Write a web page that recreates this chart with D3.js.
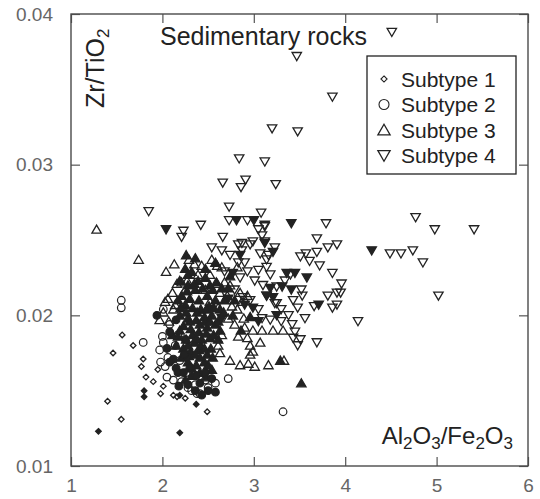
<!DOCTYPE html>
<html>
<head>
<meta charset="utf-8">
<script src="https://cdn.jsdelivr.net/npm/d3@7"></script>
<style>
  body { margin: 0; background: #fff; }
  svg { font-family: "Liberation Sans", Arial, sans-serif; }
</style>
</head>
<body>
<svg id="chart"></svg>
<script>
// [Al2O3/Fe2O3, Zr/TiO2, filled]
const subtype1 = [
  [1.56,0.0187,0],[1.46,0.0175,0],[1.68,0.0180,0],[1.79,0.0171,0],[1.77,0.0166,0],
  [1.82,0.0159,0],[1.90,0.0156,0],[1.95,0.0164,0],[2.01,0.0153,0],[1.98,0.0148,0],
  [2.12,0.0147,0],[2.16,0.0146,0],[2.49,0.0136,0],[1.40,0.0143,0],[1.55,0.0131,0],
  [2.25,0.0145,0],
  [1.80,0.0150,1],[1.80,0.0146,1],[1.30,0.0123,1],[2.19,0.0122,1],[2.37,0.0141,1],
  [2.19,0.0147,1]
];
const subtype2 = [
  [1.55,0.0210,0],[1.55,0.0205,0],[1.79,0.0182,0],[2.01,0.0204,0],[2.00,0.0186,0],
  [2.01,0.0182,0],[1.97,0.0177,0],[1.98,0.0169,0],[2.03,0.0166,0],[2.05,0.0159,0],
  [2.12,0.0157,0],[2.21,0.0156,0],[2.28,0.0152,0],[2.38,0.0148,0],[2.41,0.0148,0],
  [2.32,0.0150,0],[2.50,0.0152,0],[2.72,0.0158,0],[3.32,0.0136,0],[2.08,0.0194,0],
  [2.14,0.0180,0],[2.19,0.0170,0],[2.26,0.0162,0],[2.36,0.0154,0],[2.47,0.0157,0],
  [2.17,0.0187,0],[2.06,0.0172,0],[2.58,0.0155,0],
  [1.94,0.0200,1],[2.05,0.0178,1],[2.12,0.0171,1],[2.15,0.0165,1],[2.17,0.0162,1],
  [2.18,0.0153,1],[2.28,0.0154,1],[2.50,0.0150,1],[2.08,0.0189,1],[2.24,0.0174,1],
  [2.37,0.0160,1],[2.47,0.0162,1],[2.30,0.0165,1],[2.41,0.0155,1],[2.54,0.0158,1],
  [2.25,0.0184,1],[2.15,0.0197,1],[2.36,0.0150,1],[2.58,0.0149,1],[2.43,0.0147,1],
  [2.23,0.0162,1],[2.08,0.0169,1]
];
const subtype3 = [
  [1.28,0.0257,0],[1.74,0.0237,0],[2.13,0.0234,0],[2.04,0.0229,0],[2.29,0.0237,0],
  [2.35,0.0234,0],[2.43,0.0233,0],[2.54,0.0237,0],[2.60,0.0233,0],[2.65,0.0232,0],
  [2.82,0.0232,0],[2.16,0.0221,0],[2.21,0.0222,0],[2.27,0.0223,0],[2.11,0.0215,0],
  [2.03,0.0209,0],[2.06,0.0211,0],[2.12,0.0204,0],[2.01,0.0202,0],[2.60,0.0221,0],
  [2.68,0.0222,0],[2.74,0.0220,0],[2.63,0.0215,0],[2.71,0.0213,0],[2.52,0.0227,0],
  [2.52,0.0209,0],[2.61,0.0205,0],[2.76,0.0206,0],[2.85,0.0215,0],[2.87,0.0209,0],
  [2.93,0.0213,0],[2.82,0.0204,0],[2.74,0.0170,0],[2.85,0.0167,0],[2.94,0.0168,0],
  [3.01,0.0166,0],[3.16,0.0167,0],[2.96,0.0180,0],[2.99,0.0176,0],[2.65,0.0187,0],
  [2.60,0.0185,0],[2.83,0.0186,0],[2.93,0.0185,0],[2.79,0.0194,0],[2.90,0.0192,0],
  [2.99,0.0190,0],[3.21,0.0190,0],[2.96,0.0174,0],[2.61,0.0180,0],[2.63,0.0175,0],
  [3.33,0.0170,0],[3.32,0.0190,0],[2.07,0.0196,0],[2.47,0.0217,0],[2.39,0.0227,0],
  [2.72,0.0198,0],[3.09,0.0190,0],[3.07,0.0182,0],[2.89,0.0198,0],[2.14,0.0207,0],
  [2.25,0.0217,0],[1.97,0.0197,0],
  [2.25,0.0231,1],[2.32,0.0229,1],[2.39,0.0223,1],[2.28,0.0220,1],[2.36,0.0217,1],
  [2.44,0.0218,1],[2.21,0.0213,1],[2.30,0.0211,1],[2.40,0.0210,1],[2.49,0.0213,1],
  [2.55,0.0217,1],[2.25,0.0207,1],[2.33,0.0205,1],[2.42,0.0204,1],[2.51,0.0206,1],
  [2.58,0.0210,1],[2.19,0.0200,1],[2.28,0.0198,1],[2.37,0.0197,1],[2.46,0.0199,1],
  [2.54,0.0200,1],[2.23,0.0193,1],[2.31,0.0191,1],[2.40,0.0189,1],[2.49,0.0192,1],
  [2.58,0.0194,1],[2.17,0.0186,1],[2.26,0.0184,1],[2.35,0.0182,1],[2.43,0.0184,1],
  [2.52,0.0185,1],[2.23,0.0178,1],[2.31,0.0176,1],[2.40,0.0177,1],[2.49,0.0174,1],
  [2.28,0.0169,1],[2.37,0.0167,1],[2.46,0.0169,1],[2.53,0.0178,1],[2.61,0.0196,1],
  [2.63,0.0204,1],[2.15,0.0180,1],[2.41,0.0162,1],[2.32,0.0160,1],[2.54,0.0164,1],
  [2.68,0.0210,1],[2.65,0.0218,1],[2.74,0.0226,1],[2.47,0.0225,1],[2.36,0.0238,1],
  [2.26,0.0240,1],[2.96,0.0199,1],[3.29,0.0170,1],[3.52,0.0155,1],[2.77,0.0200,1],
  [2.86,0.0190,1],[2.59,0.0222,1],[2.17,0.0210,1],[2.11,0.0187,1],[2.27,0.0216,1],
  [2.38,0.0202,1],[2.47,0.0196,1],[2.33,0.0187,1],[2.42,0.0180,1],[2.29,0.0173,1],
  [2.50,0.0167,1],[2.20,0.0205,1],
  [2.19,0.0223,1],[2.35,0.0221,1],[2.52,0.0220,1],[2.26,0.0202,1],[2.48,0.0204,1],
  [2.56,0.0205,1],[2.30,0.0196,1],[2.41,0.0194,1],[2.52,0.0196,1],[2.19,0.0190,1],
  [2.37,0.0185,1],[2.48,0.0188,1],[2.56,0.0187,1],[2.28,0.0180,1],[2.46,0.0178,1],
  [2.36,0.0174,1],[2.55,0.0172,1],[2.21,0.0172,1],[2.41,0.0172,1],[2.32,0.0165,1],
  [2.48,0.0159,1],[2.25,0.0157,1],[2.61,0.0184,1],[2.63,0.0190,1],[2.67,0.0202,1],
  [2.58,0.0235,1],[2.47,0.0231,1],[2.28,0.0227,1],[2.72,0.0218,1],[2.79,0.0210,1]
];
const subtype4 = [
  [4.51,0.0388,0],[3.47,0.0372,0],[3.86,0.0345,0],[3.20,0.0324,0],[3.48,0.0322,0],
  [2.84,0.0304,0],[3.12,0.0302,0],[3.24,0.0287,0],[2.66,0.0288,0],[2.91,0.0290,0],
  [2.86,0.0285,0],[1.85,0.0269,0],[2.73,0.0272,0],[3.08,0.0268,0],[2.23,0.0256,0],
  [2.21,0.0252,0],[2.42,0.0260,0],[2.73,0.0263,0],[2.93,0.0263,0],[3.12,0.0260,0],
  [3.05,0.0257,0],[2.66,0.0252,0],[2.87,0.0248,0],[2.99,0.0249,0],[3.79,0.0261,0],
  [3.69,0.0251,0],[3.91,0.0247,0],[3.81,0.0245,0],[3.69,0.0242,0],[3.57,0.0241,0],
  [3.51,0.0239,0],[4.49,0.0241,0],[4.61,0.0241,0],[4.74,0.0243,0],[4.85,0.0235,0],
  [4.77,0.0265,0],[4.98,0.0257,0],[5.41,0.0257,0],[5.02,0.0213,0],[4.14,0.0196,0],
  [3.12,0.0259,0],[3.09,0.0253,0],[3.12,0.0249,0],[3.23,0.0245,0],[3.14,0.0237,0],
  [3.14,0.0232,0],[3.86,0.0228,0],[3.96,0.0221,0],[3.91,0.0215,0],[3.95,0.0215,0],
  [3.81,0.0213,0],[3.66,0.0206,0],[3.86,0.0205,0],[3.91,0.0207,0],[3.45,0.0189,0],
  [3.43,0.0185,0],[3.51,0.0184,0],[3.48,0.0180,0],[3.69,0.0182,0],[3.52,0.0217,0],
  [3.53,0.0213,0],[3.43,0.0210,0],[3.48,0.0205,0],[3.23,0.0208,0],[3.30,0.0204,0],
  [3.30,0.0196,0],[2.83,0.0247,0],[2.87,0.0243,0],[2.96,0.0247,0],[3.07,0.0241,0],
  [3.16,0.0240,0],[2.83,0.0235,0],[2.90,0.0235,0],[2.93,0.0229,0],[2.85,0.0225,0],
  [3.10,0.0220,0],[3.25,0.0219,0],[3.14,0.0213,0],[3.25,0.0208,0],[2.96,0.0210,0],
  [2.88,0.0212,0],[2.54,0.0245,0],[2.65,0.0243,0],[2.74,0.0240,0],[3.01,0.0223,0],
  [3.05,0.0230,0],[3.34,0.0223,0],[3.40,0.0227,0],[3.18,0.0227,0],[3.61,0.0236,0],
  [3.72,0.0233,0],[2.68,0.0229,0],[2.79,0.0217,0],[3.05,0.0204,0],[3.09,0.0198,0],
  [3.18,0.0197,0],[3.38,0.0200,0],[3.56,0.0198,0],[3.42,0.0194,0],
  [2.04,0.0257,1],[2.81,0.0263,1],[3.00,0.0263,1],[3.41,0.0261,1],[4.29,0.0243,1],
  [3.21,0.0242,1],[3.36,0.0228,1],[3.45,0.0228,1],[3.58,0.0225,1],[3.71,0.0207,1],
  [3.14,0.0213,1],[3.25,0.0200,1],[3.31,0.0219,1],[3.41,0.0217,1],[2.85,0.0240,1],
  [3.12,0.0248,1],[2.77,0.0228,1],[3.18,0.0218,1],[3.21,0.0212,1],[2.90,0.0207,1],
  [2.99,0.0205,1],[2.72,0.0211,1],[3.05,0.0196,1],[2.65,0.0198,1]
];
const legendLabels = ["Subtype 1", "Subtype 2", "Subtype 3", "Subtype 4"];
const xTicks = [1, 2, 3, 4, 5, 6];
const yTicks = [0.01, 0.02, 0.03, 0.04];

const width = 540, height = 499;
const ink = "#222";
const svg = d3.select("#chart").attr("width", width).attr("height", height);
svg.append("rect").attr("width", width).attr("height", height).attr("fill", "#fff");

const x = d3.scaleLinear().domain([1, 6]).range([71, 528]);
const y = d3.scaleLinear().domain([0.01, 0.04]).range([466, 14]);

// marker shapes
const shapes = {
  diamond: "M0,-2.8L2.8,0L0,2.8L-2.8,0Z",
  up: "M0,-4.4L4.7,3.7L-4.7,3.7Z",
  down: "M0,4.4L4.7,-3.7L-4.7,-3.7Z"
};
function drawSeries(data, kind) {
  const g = svg.append("g");
  const sel = g.selectAll("path").data(data).enter();
  if (kind === "circle") {
    sel.append("circle")
      .attr("cx", d => x(d[0])).attr("cy", d => y(d[1])).attr("r", 3.8)
      .attr("fill", d => d[2] ? ink : "none")
      .attr("stroke", ink).attr("stroke-width", 1.2);
  } else {
    sel.append("path")
      .attr("d", shapes[kind])
      .attr("transform", d => `translate(${x(d[0])},${y(d[1])})`)
      .attr("fill", d => d[2] ? ink : "none")
      .attr("stroke", ink).attr("stroke-width", 1.3)
      .attr("stroke-linejoin", "miter");
  }
}
drawSeries(subtype4.filter(d => !d[2]), "down");
drawSeries(subtype3.filter(d => !d[2]), "up");
drawSeries(subtype2.filter(d => !d[2]), "circle");
drawSeries(subtype1.filter(d => !d[2]), "diamond");
drawSeries(subtype4.filter(d => d[2]), "down");
drawSeries(subtype3.filter(d => d[2]), "up");
drawSeries(subtype2.filter(d => d[2]), "circle");
drawSeries(subtype1.filter(d => d[2]), "diamond");

// axes with inward ticks on all four sides
const tickColor = "#555";
function styleAxis(g) {
  g.select(".domain").remove();
  g.selectAll(".tick line").attr("stroke", tickColor).attr("stroke-width", 1.2);
}
svg.append("g").attr("transform", "translate(0,466)")
  .call(d3.axisBottom(x).tickValues(xTicks).tickSize(-9).tickPadding(13).tickFormat(d3.format("d")))
  .call(styleAxis)
  .call(g => g.selectAll("text").attr("font-size", 19).attr("fill", "#666")
    .attr("font-family", "Liberation Sans, Arial, sans-serif"));
svg.append("g").attr("transform", "translate(0,14)")
  .call(d3.axisTop(x).tickValues(xTicks).tickSize(-9).tickFormat(""))
  .call(styleAxis);
svg.append("g").attr("transform", "translate(71,0)")
  .call(d3.axisLeft(y).tickValues(yTicks).tickSize(-9).tickPadding(18).tickFormat(d3.format(".2f")))
  .call(styleAxis)
  .call(g => g.selectAll("text").attr("font-size", 19).attr("fill", "#666")
    .attr("font-family", "Liberation Sans, Arial, sans-serif"));
svg.append("g").attr("transform", "translate(528,0)")
  .call(d3.axisRight(y).tickValues(yTicks).tickSize(-9).tickFormat(""))
  .call(styleAxis);

// frame
svg.append("rect")
  .attr("x", 71).attr("y", 14).attr("width", 528 - 71).attr("height", 466 - 14)
  .attr("fill", "none").attr("stroke", "#4a4a4a").attr("stroke-width", 1.4);

// titles
svg.append("text").attr("x", 160).attr("y", 45)
  .attr("font-size", 25).attr("fill", ink).text("Sedimentary rocks");

const yTitle = svg.append("text")
  .attr("transform", "translate(104,108) rotate(-90)")
  .attr("font-size", 25).attr("fill", ink);
yTitle.append("tspan").text("Zr/TiO");
yTitle.append("tspan").attr("font-size", 17).attr("dy", 5).text("2");

const xTitle = svg.append("text")
  .attr("x", 513).attr("y", 444).attr("text-anchor", "end")
  .attr("font-size", 24).attr("fill", ink);
const parts = [["Al", 0], ["2", 1], ["O", 0], ["3", 1], ["/Fe", 0], ["2", 1], ["O", 0], ["3", 1]];
parts.forEach(([t, sub], i) => {
  const prev = i > 0 ? parts[i - 1][1] : 0;
  xTitle.append("tspan")
    .attr("font-size", sub ? 17 : 24)
    .attr("dy", sub === prev ? 0 : (sub ? 5 : -5))
    .text(t);
});

// legend
const legend = svg.append("g");
legend.append("rect")
  .attr("x", 367).attr("y", 56).attr("width", 149).attr("height", 118)
  .attr("fill", "#fff").attr("stroke", ink).attr("stroke-width", 1.3);
const legendKinds = ["diamond", "circle", "up", "down"];
legendLabels.forEach((label, i) => {
  const cy = 79 + i * 25.5;
  if (legendKinds[i] === "circle") {
    legend.append("circle").attr("cx", 384).attr("cy", cy).attr("r", 5)
      .attr("fill", "none").attr("stroke", ink).attr("stroke-width", 1.1);
  } else {
    const s = legendKinds[i] === "diamond" ? 1.1 : 1.3;
    legend.append("path").attr("d", shapes[legendKinds[i]])
      .attr("transform", `translate(384,${cy}) scale(${s})`)
      .attr("fill", "none").attr("stroke", ink).attr("stroke-width", 1);
  }
  legend.append("text").attr("x", 401).attr("y", cy + 7.5)
    .attr("font-size", 21).attr("fill", ink).text(label);
});
</script>
</body>
</html>
